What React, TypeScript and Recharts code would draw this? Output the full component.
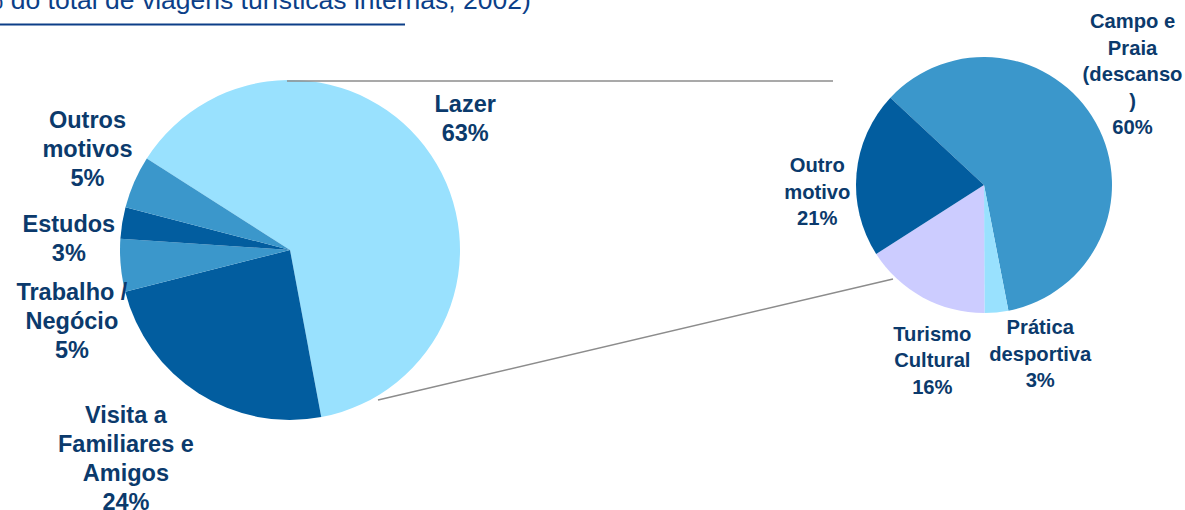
import React from "react";
import { PieChart, Pie, Cell } from "recharts";

// main split of domestic tourist trips by purpose (%)
const mainNames = ["Lazer", "Visita a Familiares e Amigos", "Trabalho / Negócio", "Estudos", "Outros motivos"];
const mainValues = [63, 24, 5, 3, 5];
const mainLabelLines = [["Lazer"], ["Visita a", "Familiares e", "Amigos"], ["Trabalho /", "Negócio"], ["Estudos"], ["Outros", "motivos"]];

// breakdown of "Lazer" (%)
const leisureNames = ["Campo e Praia (descanso)", "Prática desportiva", "Turismo Cultural", "Outro motivo"];
const leisureValues = [60, 3, 16, 21];
const leisureLabelLines = [["Campo e", "Praia", "(descanso", ")"], ["Prática", "desportiva"], ["Turismo", "Cultural"], ["Outro", "motivo"]];

const TITLE = "(% do total de viagens turísticas internas, 2002)";

const LIGHT = "#99E1FE";
const DARK = "#025D9F";
const MID = "#3B97CB";
const LILAC = "#CCCCFF";
const mainColors = [LIGHT, DARK, MID, DARK, MID];
const leisureColors = [MID, LIGHT, LILAC, DARK];

const LABEL_COLOR = "#0B3A6C";
const RAD = Math.PI / 180;

const mainData = mainNames.map((name, i) => ({ name, value: mainValues[i], lines: mainLabelLines[i] }));
const leisureData = leisureNames.map((name, i) => ({ name, value: leisureValues[i], lines: leisureLabelLines[i] }));

// label nudges relative to a point at 1.3 * outerRadius on the slice mid angle
const mainNudge: Record<string, [number, number]> = {
  "Lazer": [-8, -8],
  "Visita a Familiares e Amigos": [-45, 22],
  "Trabalho / Negócio": [2, 51],
  "Estudos": [-3, 24],
  "Outros motivos": [0, -13],
};
const leisureNudge: Record<string, [number, number]> = {
  "Campo e Praia (descanso)": [3, -30],
  "Prática desportiva": [40, 3],
  "Turismo Cultural": [28, 29],
  "Outro motivo": [-1, 22],
};

const makeLabel = (nudge: Record<string, [number, number]>, fontSize: number, lh: number) => (props: any) => {
  const { cx, cy, midAngle, outerRadius, payload } = props;
  const r = outerRadius * 1.3;
  const [nx, ny] = nudge[payload.name] || [0, 0];
  const x = cx + r * Math.cos(-midAngle * RAD) + nx;
  const y = cy + r * Math.sin(-midAngle * RAD) + ny;
  const lines = [...payload.lines, `${payload.value}%`];
  const top = y - ((lines.length - 1) / 2) * lh;
  return (
    <text
      x={x}
      y={top}
      textAnchor="middle"
      dominantBaseline="central"
      fill={LABEL_COLOR}
      fontSize={fontSize}
      fontWeight="bold"
      fontFamily="'Liberation Sans', Arial, sans-serif"
    >
      {lines.map((l: string, i: number) => (
        <tspan key={i} x={x} y={top + i * lh}>{l}</tspan>
      ))}
    </text>
  );
};

const CONNECTORS = [
  { x1: 287, y1: 81, x2: 833, y2: 81 },
  { x1: 378, y1: 400, x2: 893, y2: 279 },
];

export default function App() {
  return (
    <div style={{ position: "fixed", left: 0, top: 0, width: 1185, height: 510, background: "#fff", overflow: "hidden" }}>
      <PieChart width={1185} height={510} margin={{ top: 0, right: 0, bottom: 0, left: 0 }}>
        <Pie
          data={mainData}
          dataKey="value"
          nameKey="name"
          cx={290}
          cy={250}
          outerRadius={170}
          startAngle={147.4}
          endAngle={-212.6}
          stroke="none"
          labelLine={false}
          label={makeLabel(mainNudge, 23.5, 29)}
          isAnimationActive={false}
        >
          {mainData.map((d, i) => (
            <Cell key={d.name} fill={mainColors[i]} />
          ))}
        </Pie>
        <Pie
          data={leisureData}
          dataKey="value"
          nameKey="name"
          cx={984}
          cy={185}
          outerRadius={128}
          startAngle={137}
          endAngle={-223}
          stroke="none"
          labelLine={false}
          label={makeLabel(leisureNudge, 20.2, 26.5)}
          isAnimationActive={false}
        >
          {leisureData.map((d, i) => (
            <Cell key={d.name} fill={leisureColors[i]} />
          ))}
        </Pie>
      </PieChart>
      <svg width={1185} height={510} style={{ position: "absolute", left: 0, top: 0, pointerEvents: "none" }}>
        <text x={-29} y={9} fill="#0C3F88" fontSize={26.5} fontFamily="'Liberation Sans', Arial, sans-serif">
          {TITLE}
        </text>
        <line x1={0} y1={24.5} x2={405} y2={24.5} stroke="#0C3F88" strokeWidth={2} />
        {CONNECTORS.map((c, i) => (
          <line key={i} {...c} stroke="#8C8C8C" strokeWidth={1.5} />
        ))}
      </svg>
    </div>
  );
}
